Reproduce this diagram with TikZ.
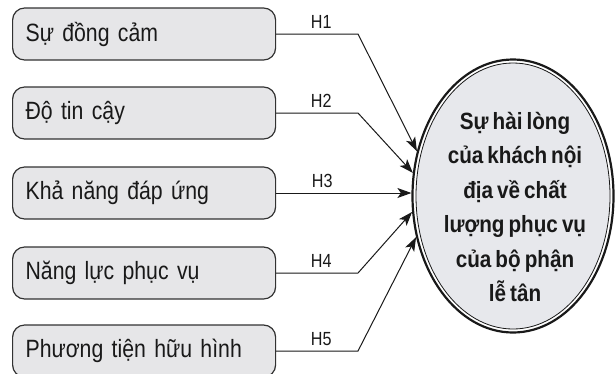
\documentclass[tikz,border=0pt]{standalone}
\usepackage{fontspec}
\setmainfont{Liberation Sans}[FakeStretch=0.85, WordSpace=0.6]
\newfontfamily\ovalfont{Liberation Sans}[FakeStretch=0.88, WordSpace=0.7]
\usetikzlibrary{shapes.geometric,arrows.meta}

\definecolor{boxfill}{RGB}{230,230,232}
\definecolor{ovalfill}{RGB}{231,232,236}
\definecolor{edge}{RGB}{50,50,50}
\definecolor{ink}{RGB}{25,25,25}

\tikzset{
  factor/.style={draw=edge, line width=1.2pt, fill=boxfill, rounded corners=12pt,
    minimum width=263pt, minimum height=52pt, text width=237pt, inner xsep=13pt,
    align=left, anchor=west, text=ink, font=\fontsize{25}{28}\selectfont},
  conn/.style={draw=ink, line width=1pt,
    -{Stealth[length=14pt,width=10pt,inset=3.5pt]}},
  hlab/.style={font=\fontsize{19}{22}\selectfont, text=ink, inner sep=0pt, above=5pt}
}

\begin{document}
\begin{tikzpicture}[x=1pt,y=-1pt]
  \clip (0,0) rectangle (615,373);

  % outcome: satisfaction oval with a thick outer and thin inner outline
  \node[ellipse, draw=ink, line width=2.2pt, fill=white, minimum width=201pt,
        minimum height=273pt, inner sep=0pt] (e) at (513,196) {};
  \node[ellipse, draw=ink, line width=0.8pt, fill=ovalfill, minimum width=194pt,
        minimum height=266pt, inner sep=0pt] (ei) at (e.center) {};
  \node[align=center, text=ink, font=\ovalfont\bfseries\fontsize{23.5}{34.5}\selectfont]
    (etext) at (515,207)
    {Sự hài lòng\\của khách nội\\địa về chất\\lượng phục vụ\\của bộ phận\\lễ tân};

  % the five service-quality factors
  \node[factor] (b1) at (12,34)  {Sự đồng cảm};
  \node[factor] (b2) at (12,113) {Độ tin cậy};
  \node[factor] (b3) at (12,193) {Khả năng đáp ứng};
  \node[factor] (b4) at (12,273) {Năng lực phục vụ};
  \node[factor] (b5) at (12,351) {Phương tiện hữu hình};

  % bend column of the hypothesis arrows
  \coordinate (kx) at (358,0);

  \draw[conn] (b1.east) -- node[hlab, pos=0.55] {H1} (b1.east -| kx) -- (e.155);
  \draw[conn] (b2.east) -- node[hlab, pos=0.55] {H2} (b2.east -| kx) -- (e.167);
  \draw[conn] (b3.east) -- node[hlab, pos=0.34] {H3} (b3.east -| e.west);
  \draw[conn] (b4.east) -- node[hlab, pos=0.55] {H4} (b4.east -| kx) -- (e.189);
  \draw[conn] (b5.east) -- node[hlab, pos=0.55] {H5} (b5.east -| kx) -- (e.203);
\end{tikzpicture}
\end{document}
